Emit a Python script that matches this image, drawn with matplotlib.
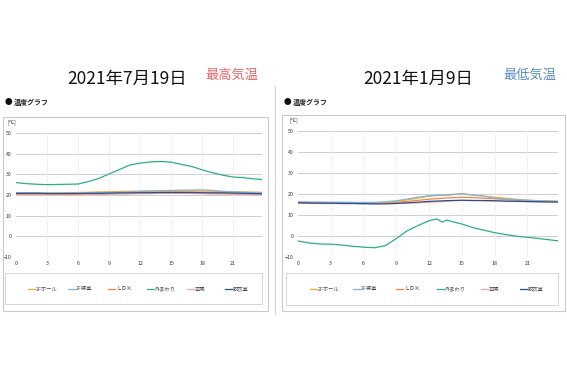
import matplotlib
matplotlib.use("Agg")
import matplotlib.pyplot as plt
from matplotlib.patches import Rectangle
from matplotlib.lines import Line2D

plt.rcParams['font.family'] = ['Noto Sans CJK JP', 'DejaVu Sans']

# ---------------- data ----------------
series_names = ["2Fホール", "2F寝室", "ＬＤＫ", "外まわり", "玄関", "脱衣室"]
series_colors = ["#f2b134", "#7fb2e5", "#e8894a", "#2bae88", "#f2a7a7", "#2f4d86"]

hours = [0, 1, 2, 3, 4, 5, 6, 7, 8, 9, 10, 11, 12, 13, 14, 15, 16, 17, 18, 19, 20, 21, 22, 23, 23.8]
x_ticks = [0, 3, 6, 9, 12, 15, 18, 21]
y_ticks = [-10, 0, 10, 20, 30, 40, 50]

# 2021-07-19 (highest temperature day)
jul_hall   = [21.0, 21.0, 21.0, 21.0, 21.0, 21.1, 21.2, 21.3, 21.5, 21.6, 21.7, 21.8, 21.9, 22.0, 22.0, 22.0, 22.0, 22.0, 21.9, 21.8, 21.7, 21.6, 21.5, 21.4, 21.3]
jul_bed    = [21.0, 21.0, 21.0, 20.9, 20.9, 20.9, 20.9, 21.0, 21.1, 21.2, 21.3, 21.5, 21.7, 21.9, 22.1, 22.2, 22.3, 22.4, 22.5, 22.2, 21.8, 21.5, 21.3, 21.1, 21.0]
jul_ldk    = [20.6, 20.6, 20.6, 20.6, 20.6, 20.6, 20.7, 20.8, 21.0, 21.1, 21.2, 21.3, 21.4, 21.5, 21.5, 21.5, 21.5, 21.5, 21.4, 21.3, 21.2, 21.1, 21.0, 20.9, 20.8]
jul_out    = [26.0, 25.5, 25.2, 25.0, 25.1, 25.2, 25.3, 26.5, 28.0, 30.2, 32.3, 34.5, 35.4, 36.0, 36.2, 35.9, 34.8, 33.8, 32.2, 30.8, 29.6, 28.7, 28.4, 27.8, 27.5]
jul_front  = [20.2, 20.2, 20.1, 20.1, 20.1, 20.1, 20.1, 20.2, 20.2, 20.3, 20.4, 20.5, 20.6, 20.7, 20.8, 20.8, 20.8, 20.7, 20.6, 20.5, 20.4, 20.3, 20.3, 20.2, 20.2]
jul_dress  = [20.8, 20.8, 20.8, 20.7, 20.7, 20.7, 20.7, 20.8, 20.8, 20.9, 21.0, 21.0, 21.1, 21.1, 21.2, 21.2, 21.2, 21.2, 21.1, 21.0, 21.0, 20.9, 20.8, 20.7, 20.6]

# 2021-01-09 (lowest temperature day)
jan_hall   = [16.0, 15.9, 15.9, 15.8, 15.8, 15.8, 15.8, 15.8, 15.9, 16.5, 17.2, 18.0, 19.0, 19.3, 19.5, 20.3, 19.5, 19.0, 18.5, 18.0, 17.5, 17.1, 16.8, 16.5, 16.3]
jan_bed    = [16.3, 16.2, 16.2, 16.1, 16.1, 16.0, 16.0, 16.0, 16.3, 16.8, 17.6, 18.5, 19.2, 19.6, 19.8, 20.0, 19.5, 19.0, 18.0, 17.6, 17.3, 17.0, 16.8, 16.6, 16.5]
jan_ldk    = [16.0, 15.9, 15.9, 15.8, 15.8, 15.8, 15.8, 15.8, 15.9, 16.1, 16.5, 17.0, 17.5, 17.9, 18.2, 18.5, 18.3, 18.0, 17.7, 17.4, 17.0, 16.8, 16.7, 16.6, 16.5]
jan_front  = [15.6, 15.5, 15.5, 15.5, 15.4, 15.4, 15.4, 15.4, 15.5, 15.6, 15.7, 15.8, 16.0, 16.3, 16.7, 17.0, 16.9, 16.8, 16.7, 16.6, 16.5, 16.4, 16.3, 16.3, 16.3]
jan_dress  = [15.8, 15.7, 15.6, 15.6, 15.5, 15.5, 15.4, 15.3, 15.3, 15.5, 15.8, 16.1, 16.5, 16.7, 16.9, 17.0, 16.9, 16.9, 16.8, 16.6, 16.5, 16.4, 16.3, 16.2, 16.2]
jan_out_hours = [0, 1, 2, 3, 4, 5, 6, 7, 8, 9, 10, 11, 12, 12.7, 13.2, 13.6, 14, 15, 16, 17, 18, 19, 20, 21, 22, 23, 23.8]
jan_out    = [-2.4, -3.3, -3.8, -3.9, -4.3, -4.9, -5.3, -5.6, -4.6, -1.2, 2.5, 5.0, 7.3, 8.1, 6.6, 7.6, 7.0, 5.7, 4.0, 2.8, 1.6, 0.7, -0.1, -0.6, -1.2, -1.8, -2.3]

titles = ["2021年7月19日", "2021年1月9日"]
subtitles = ["最高気温", "最低気温"]
subtitle_colors = ["#e8656a", "#5b8cc8"]
section_label = "温度グラフ"
unit_label = "[℃]"

# ---------------- figure ----------------
W, H = 567, 378
fig = plt.figure(figsize=(W / 100, H / 100), dpi=100)
fig.patch.set_facecolor("white")


def fx(px):
    return px / W


def fy(py):
    return 1 - py / H


def rect(x0, y0, x1, y1, ec="#c9c9c9", lw=0.8):
    fig.add_artist(Rectangle((fx(x0), fy(y1)), fx(x1) - fx(x0), fy(y0) - fy(y1),
                             transform=fig.transFigure, fill=False, ec=ec, lw=lw))


panels = [
    dict(box=(3, 117, 268, 311), leg=(5, 273, 262, 304), ax=(16, 133, 262, 257),
         title_x=127, sub_x=232, dot_x=5, legx=[28, 68, 108, 147, 187, 225],
         series=[(hours, jul_hall), (hours, jul_bed), (hours, jul_ldk),
                 (hours, jul_out), (hours, jul_front), (hours, jul_dress)]),
    dict(box=(282, 115, 565, 311), leg=(286, 273, 558, 305), ax=(298, 131, 558, 257),
         title_x=418, sub_x=530, dot_x=284, legx=[310, 353, 396, 437, 481, 520],
         series=[(hours, jan_hall), (hours, jan_bed), (hours, jan_ldk),
                 (jan_out_hours, jan_out), (hours, jan_front), (hours, jan_dress)]),
]

for i, p in enumerate(panels):
    # headings
    fig.text(fx(p["title_x"]), fy(79), titles[i], ha="center", va="center",
             fontsize=12.5, color="#111111")
    fig.text(fx(p["sub_x"]), fy(75), subtitles[i], ha="center", va="center",
             fontsize=9.5, color=subtitle_colors[i])
    fig.text(fx(p["dot_x"]), fy(102), "●", ha="left", va="center", fontsize=5.5,
             color="#111111")
    fig.text(fx(p["dot_x"] + 9), fy(102), section_label, ha="left", va="center",
             fontsize=5, color="#222222", fontweight="bold")

    rect(*p["box"])
    rect(*p["leg"], ec="#d6d6d6", lw=0.7)

    x0, y0, x1, y1 = p["ax"]
    ax = fig.add_axes([fx(x0), fy(y1), fx(x1) - fx(x0), fy(y0) - fy(y1)])
    ax.set_facecolor("none")
    for s in ax.spines.values():
        s.set_visible(False)
    ax.set_xlim(0, 23.8)
    ax.set_ylim(-10, 50)
    ax.set_xticks(x_ticks)
    ax.set_yticks(y_ticks)
    ax.tick_params(length=0, labelsize=3.8, labelcolor="#333333", pad=3)
    for t in y_ticks:
        ax.axhline(t, color="#cfcfcf", lw=0.7, zorder=0)
    for t in x_ticks[1:]:
        ax.axvline(t, color="#efefef", lw=0.6, zorder=0)
    # draw indoor first, outdoor on top
    order = [4, 2, 0, 1, 5, 3]
    for k in order:
        xs, ys = p["series"][k]
        ax.plot(xs, ys, color=series_colors[k], lw=0.9, zorder=2 + (k == 3))
    fig.text(fx(x0 - 8), fy(y0 - 11), unit_label, ha="left", va="center",
             fontsize=3.8, color="#333333")

    # legend
    ly = 289
    for k, name in enumerate(series_names):
        lx = p["legx"][k]
        fig.add_artist(Line2D([fx(lx), fx(lx + 7)], [fy(ly), fy(ly)],
                              transform=fig.transFigure, color=series_colors[k], lw=0.9))
        fig.text(fx(lx + 8), fy(ly), name, ha="left", va="center", fontsize=3.8,
                 color="#444444")

# separator
fig.add_artist(Line2D([fx(275), fx(275)], [fy(86), fy(314)], transform=fig.transFigure,
                      color="#c7d7ea", lw=0.9))

fig.savefig("out.png", dpi=100, facecolor="white")
